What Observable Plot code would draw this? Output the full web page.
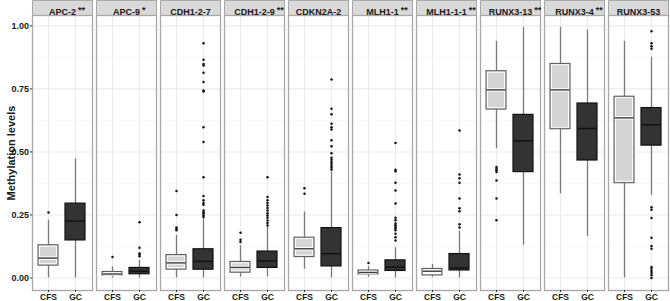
<!DOCTYPE html>
<html><head><meta charset="utf-8">
<script src="https://cdn.jsdelivr.net/npm/d3@7"></script>
<script src="https://cdn.jsdelivr.net/npm/@observablehq/plot@0.6"></script>
<style>
html,body{margin:0;padding:0;background:#fff;}
</style>
</head><body><div id="chart"></div>
<script>
const genes = ["APC-2","APC-9","CDH1-2-7","CDH1-2-9","CDKN2A-2","MLH1-1","MLH1-1-1","RUNX3-13","RUNX3-4","RUNX3-53"];
const signif = ["**","*","","**","","**","**","**","**",""];
const groups = ["CFS","GC"];
const yTicks = [0, 0.25, 0.5, 0.75, 1];
const yMinor = [0.125, 0.375, 0.625, 0.875];
const yTitle = "Methylation levels";

const cfsLow  = [0,     0,     0,     0.003, 0.035, 0.003, 0.003, 0.513, 0.334, 0];
const cfsQ1   = [0.049, 0.010, 0.033, 0.021, 0.083, 0.014, 0.010, 0.668, 0.590, 0.376];
const cfsMed  = [0.079, 0.016, 0.060, 0.042, 0.116, 0.022, 0.027, 0.746, 0.746, 0.635];
const cfsQ3   = [0.130, 0.024, 0.091, 0.064, 0.160, 0.030, 0.036, 0.820, 0.849, 0.719];
const cfsHigh = [0.229, 0.044, 0.169, 0.128, 0.262, 0.045, 0.054, 0.939, 0.994, 0.939];

const gcLow  = [0,     0,     0,     0.004, 0,     0,     0,     0.130, 0.165, 0.328];
const gcQ1   = [0.149, 0.015, 0.033, 0.040, 0.046, 0.028, 0.030, 0.420, 0.466, 0.525];
const gcMed  = [0.226, 0.027, 0.066, 0.068, 0.096, 0.043, 0.040, 0.544, 0.593, 0.608];
const gcQ3   = [0.295, 0.040, 0.114, 0.105, 0.198, 0.070, 0.095, 0.647, 0.692, 0.674];
const gcHigh = [0.473, 0.070, 0.235, 0.202, 0.420, 0.120, 0.186, 0.994, 0.984, 0.876];

const cfsOut = [
  [0.26],
  [0.083],
  [0.189, 0.195, 0.2, 0.25, 0.345],
  [0.143, 0.152, 0.18],
  [0.334, 0.356],
  [0.06],
  [],
  [0.44, 0.433, 0.427, 0.42, 0.387, 0.315, 0.229],
  [],
  []
];
const gcOut = [
  [],
  [0.086, 0.093, 0.097, 0.12, 0.221],
  [0.242,0.248,0.255,0.261,0.268,0.291,0.297,0.308,0.325,0.4,0.539,0.598,0.74,0.744,0.777,0.814,0.843,0.849,0.866,0.931],
  [0.208,0.218,0.228,0.239,0.248,0.257,0.268,0.278,0.288,0.297,0.308,0.321,0.4],
  [0.429,0.437,0.444,0.453,0.46,0.469,0.477,0.495,0.523,0.546,0.589,0.598,0.612,0.649,0.671,0.787],
  [0.149,0.162,0.176,0.189,0.196,0.202,0.209,0.216,0.229,0.239,0.295,0.347,0.378,0.423,0.429,0.535],
  [0.2,0.213,0.265,0.277,0.315,0.378,0.396,0.41,0.585],
  [],
  [],
  [0,0.011,0.02,0.028,0.037,0.044,0.116,0.127,0.16,0.238,0.271,0.281,0.909,0.919,0.931,0.979]
];

// build tables
const cfsStats = genes.map((g,i)=>({gene:g, group:"CFS", low:cfsLow[i], q1:cfsQ1[i], med:cfsMed[i], q3:cfsQ3[i], high:cfsHigh[i]}));
const gcStats  = genes.map((g,i)=>({gene:g, group:"GC",  low:gcLow[i],  q1:gcQ1[i],  med:gcMed[i],  q3:gcQ3[i],  high:gcHigh[i]}));
const stats = cfsStats.concat(gcStats);
const outliers = [];
genes.forEach((g,i)=>{
  cfsOut[i].forEach(v=>outliers.push({gene:g, group:"CFS", value:v}));
  gcOut[i].forEach(v=>outliers.push({gene:g, group:"GC", value:v}));
});

const FONT = "'Liberation Sans', Arial, Helvetica, sans-serif";
const canvas = document.createElement("canvas");
const ctx = canvas.getContext("2d");
ctx.font = "bold 9px 'Liberation Sans', Arial, sans-serif";

const starMarks = genes.map((g,i)=> signif[i] ? Plot.text([{gene:g, s:signif[i]}], {
  fx:"gene", text:"s", frameAnchor:"top", textAnchor:"start",
  dx: ctx.measureText(g).width/2 + 2, dy:-8.6, fontSize:9, fontWeight:"bold", fill:"#1a1a1a"
}) : null).filter(Boolean);

const plot = Plot.plot({
  width: 670, height: 301,
  marginLeft: 31, marginRight: 2, marginTop: 15, marginBottom: 11,
  style: {fontFamily: FONT, background: "#fff", overflow: "visible", color: "#1a1a1a"},
  fx: {domain: genes, paddingInner: 0.0625, paddingOuter: 0, axis: null, label: null},
  x: {domain: groups, paddingInner: 0.25, paddingOuter: 0.225, label: null},
  y: {domain: [-0.0495, 1.041], label: null},
  marks: [
    // strip
    Plot.frame({insetTop: -15, insetBottom: 275, fill: "#d9d9d9", stroke: "#a8a8a8", strokeWidth: 1}),
    // grids
    Plot.gridY(yMinor, {stroke: "#f3f3f3", strokeOpacity: 1, strokeWidth: 0.7}),
    Plot.gridY(yTicks, {stroke: "#ebebeb", strokeOpacity: 1, strokeWidth: 1.1}),
    Plot.gridX(groups, {stroke: "#ebebeb", strokeOpacity: 1, strokeWidth: 1.1}),
    // whiskers
    Plot.ruleX(stats, {fx:"gene", x:"group", y1:"low", y2:"high", stroke:"#7a7a7a", strokeWidth:1.3}),
    // CFS boxes
    Plot.barY(cfsStats, {fx:"gene", x:"group", y1:"q1", y2:"q3", fill:"#d4d4d4", stroke:"#5e5e5e", strokeWidth:1.1}),
    Plot.barY(cfsStats, {fx:"gene", x:"group", y1:"q1", y2:"q3", fill:"none", stroke:"#ffffff", strokeWidth:0.9, inset:1.5}),
    Plot.tickY(cfsStats, {fx:"gene", x:"group", y:"med", stroke:"#ffffff", strokeWidth:3.4, inset:1.2}),
    Plot.tickY(cfsStats, {fx:"gene", x:"group", y:"med", stroke:"#3a3a3a", strokeWidth:1.4, inset:0.6}),
    // GC boxes
    Plot.barY(gcStats, {fx:"gene", x:"group", y1:"q1", y2:"q3", fill:"#333333", stroke:"#111111", strokeWidth:1.2}),
    Plot.tickY(gcStats, {fx:"gene", x:"group", y:"med", stroke:"#111111", strokeWidth:1.4, inset:0.6}),
    // outliers
    Plot.dot(outliers, {fx:"gene", x:"group", y:"value", r:1.25, fill:"#111111", stroke:"none"}),
    // panel border
    Plot.frame({stroke: "#a8a8a8", strokeWidth: 1.3}),
    // axes
    Plot.axisY({ticks: yTicks, tickFormat: d3.format(".2f"), tickSize: 2, tickPadding: 1.5, fontWeight: "bold", fontSize: 9, label: null, stroke:"#333"}),
    Plot.axisY({ticks: [], tickSize: 0, label: yTitle, labelAnchor: "center", labelOffset: 25, labelArrow: "none", fontWeight: "bold", fontSize: 11}),
    Plot.axisX({tickSize: 2, tickPadding: 1, fontWeight: "bold", fontSize: 8.5, label: null, stroke:"#333"}),
    // strip labels
    Plot.text(genes, {fx: d=>d, text: d=>d, frameAnchor: "top", dy: -6.6, fontSize: 9, fontWeight: "bold", fill: "#1a1a1a"}),
    ...starMarks
  ]
});
document.getElementById("chart").appendChild(plot);
</script>
</body></html>
